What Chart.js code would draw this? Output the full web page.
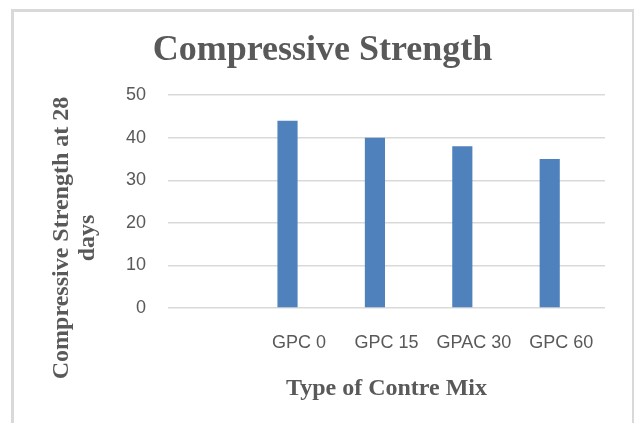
<!DOCTYPE html>
<html>
<head>
<meta charset="utf-8">
<script src="https://cdn.jsdelivr.net/npm/chart.js@4"></script>
<style>
  html, body { margin: 0; padding: 0; background: #fff; }
  #wrap { position: relative; width: 634px; height: 423px; overflow: hidden; }
  #frame { position: absolute; left: 11px; top: 9px; width: 618px; height: 420px; border: 3px solid #d9d9d9; pointer-events: none; }
  canvas { position: absolute; left: 0; top: 0; }
</style>
</head>
<body>
<div id="wrap">
  <canvas id="chart" width="634" height="423"></canvas>
  <div id="frame"></div>
</div>
<script>
// chart data
const mixTypes = ['', 'GPC 0', 'GPC 15', 'GPAC 30', 'GPC 60'];
const strength28 = [null, 44, 40, 38, 35];
const emptySeries = [null, null, null, null, null];
const yTicks = [0, 10, 20, 30, 40, 50];
const yTitleLines = ['Compressive Strength at 28', 'days'];

const textColor = '#595959';
const gridColor = '#d9d9d9';
const serifFont = "'Liberation Serif', 'Times New Roman', serif";
const sansFont = "'Liberation Sans', Arial, sans-serif";

// y axis title is drawn by hand so it can sit lower than the plot centre, like the original
const yTitlePlugin = {
  id: 'yTitle',
  afterDraw(chart) {
    const c = chart.ctx;
    c.save();
    c.fillStyle = textColor;
    c.font = 'bold 24px ' + serifFont;
    c.textAlign = 'center';
    c.textBaseline = 'middle';
    c.translate(62, 238);
    c.rotate(-Math.PI / 2);
    yTitleLines.forEach((line, i) => {
      c.fillText(line, 0, i * 26);
    });
    c.restore();
  }
};

const ctx = document.getElementById('chart');

new Chart(ctx, {
  type: 'bar',
  data: {
    labels: mixTypes,
    datasets: [{
      label: 'Compressive Strength',
      data: strength28,
      backgroundColor: '#4f81bd',
      borderWidth: 0,
      categoryPercentage: 0.53,
      barPercentage: 0.87
    }, {
      label: '',
      data: emptySeries,
      backgroundColor: '#c0504d',
      categoryPercentage: 0.53,
      barPercentage: 0.87
    }]
  },
  options: {
    responsive: false,
    animation: false,
    devicePixelRatio: 1,
    layout: {
      padding: { left: 40, right: 29, top: 0, bottom: 0 }
    },
    plugins: {
      legend: { display: false },
      tooltip: { enabled: false },
      title: {
        display: true,
        text: 'Compressive Strength',
        color: textColor,
        font: { family: serifFont, size: 36, weight: 'bold' },
        padding: { top: 29, bottom: 23 }
      }
    },
    scales: {
      x: {
        grid: { display: false, drawTicks: false },
        border: { display: false },
        ticks: {
          color: textColor,
          font: { family: sansFont, size: 18 },
          padding: 24,
          maxRotation: 0
        },
        title: {
          display: true,
          text: 'Type of Contre Mix',
          color: textColor,
          font: { family: serifFont, size: 24, weight: 'bold' },
          padding: { top: 0, bottom: 20 }
        },
        afterFit: (scale) => { scale.height = 115; }
      },
      y: {
        min: 0,
        max: 50,
        afterBuildTicks: (scale) => { scale.ticks = yTicks.map(v => ({ value: v })); },
        grid: { color: gridColor, lineWidth: 1.5, drawTicks: false },
        border: { display: false },
        ticks: {
          color: textColor,
          font: { family: sansFont, size: 18 },
          padding: 22
        },
        afterFit: (scale) => { scale.width = 128; }
      }
    }
  },
  plugins: [yTitlePlugin]
});
</script>
</body>
</html>
